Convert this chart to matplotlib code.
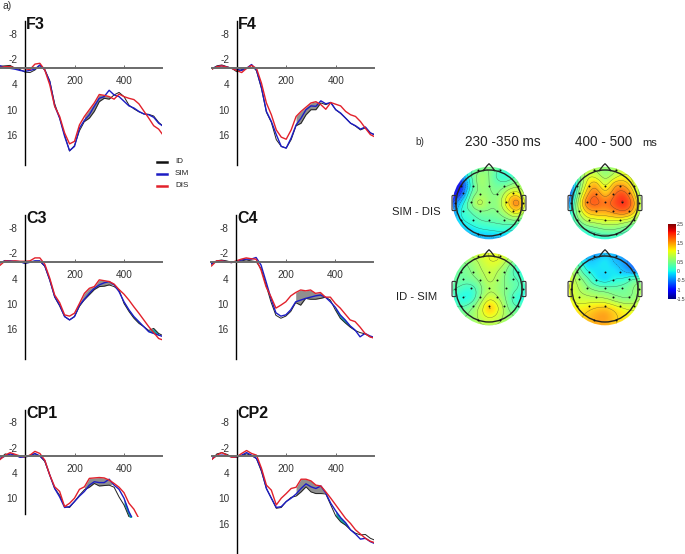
import numpy as np
import matplotlib
matplotlib.use('Agg')
import matplotlib.pyplot as plt
from matplotlib.lines import Line2D
from matplotlib.patches import Circle, FancyBboxPatch

plt.rcParams['font.family'] = ['Liberation Sans', 'DejaVu Sans']
plt.rcParams['axes.unicode_minus'] = False

W, H = 685, 554

# ERP curves, microvolts every 20 ms
times = np.arange(-100, 561, 20)

f3_id = [-.3,-.4,-.5,.2,.5,1.1,1.2,.6,-.5,.5,3.2,8.6,12,16,19.8,18.5,15,12.8,12,10.4,8.1,7.3,7.5,6.5,5.9,6.9,8.9,9.8,10.5,11,11.1,11.5,13,14]
f3_sim = [-.4,0,.2,.4,.7,.9,.7,.4,-.6,.6,3.3,9.1,12,16.3,19.7,18.7,14.4,12.5,11.2,9.2,7.3,6.9,5.4,6.5,6.9,8,9.1,9.6,10.4,11,11.2,11.8,13.2,14]
f3_dis = [0,-.2,-.2,.1,.1,.3,.5,-.8,-1,.6,4.1,9.2,11.6,15.5,18.1,17.5,13.6,11.6,10,8.4,6.4,6.6,6.9,7.5,6.3,6.9,7.3,7.6,8.6,10.3,12,13.8,14.6,16.2]

f4_id = [.4,-.4,-.6,-.2,.2,1,.5,.2,-.6,.8,5,10.6,13,17.1,18.7,19.1,17.1,13.8,13.2,11.2,10,10,8.4,8.8,8.3,10,10.9,12,13.2,13.9,14.8,14.3,15.5,16]
f4_sim = [.2,-.2,-.4,-.1,.2,.4,.7,.2,-.7,.6,4.7,10.4,12.8,15.9,18.7,19.1,16.7,13.6,12,10,9.1,9.2,7.9,8.6,8.3,10,10.8,12,13.2,13.8,14.6,14.1,15.5,16]
f4_dis = [.4,-.2,-.4,-.1,.2,.7,1.2,.2,-.5,.2,3.7,8.4,11.2,14.8,16.5,17,14.8,11.6,10.4,9.4,8.4,8.1,8.8,9.9,8.3,8.7,9.1,10.4,11.2,11.6,12.8,14.4,15.9,16.5]

c3_id = [.3,-.3,-.1,0,.1,.3,.2,-.1,-.1,1.1,4.4,8.4,10.5,13,13.8,13,10.6,9,7.8,6.6,5.9,5.8,5.5,5.9,6.7,9.9,11.8,13.4,14.6,15.4,16.3,15.8,17,17.6]
c3_sim = [.2,-.2,-.2,-.1,0,.4,.1,-.2,-.2,1,4.3,8.3,10.3,13,13.8,13,10.3,8.9,7.5,6.3,5.5,5,4.7,5.5,7.1,9.5,11.4,13,14.2,15.4,16.6,17,17.4,17.8]
c3_dis = [.8,-.2,-.1,-.2,-.1,-.1,-.2,-.9,-.9,.6,3.9,7.9,9.7,12.6,12.9,12.2,9.9,7.5,6.3,5.9,4.3,4.5,4.7,5.3,6.6,7.7,9.1,10.7,12.2,13.8,15.4,16.8,18.2,18.6]

c4_id = [.6,-.2,-.4,-.2,.1,.2,-.2,-.4,-.2,0,1.6,5.5,9.5,12.7,13.4,12.9,11.8,9.7,10.3,8.7,8.9,8.9,8.7,8.4,9.1,11.4,13.4,14.5,15.5,16.3,16.8,17.1,17.8,18]
c4_sim = [.4,0,-.2,0,.2,0,-.4,-.6,-.6,-1,.8,4.7,8.7,12.1,12.9,12.6,11.4,9.5,9.1,8.7,8.4,8.1,7.9,8.4,9.5,10.8,12.6,13.8,15.2,16.2,17.8,17,17.6,18]
c4_dis = [1,-.2,-.2,0,.2,-.2,-.6,-.9,-.7,-.6,2,5.9,8.3,11,10.3,9.5,8.1,7.3,6.7,6.9,6.7,7.5,7.3,8.4,8.4,9.9,11,12.4,13.8,14.2,15.5,17,17.8,18.2]

cp1_id = [.6,-.5,-.2,-.1,.2,.2,-.2,-.5,0,1.3,4.5,7.7,9.3,12,12.2,10.8,9.3,8,7.4,6.5,7.1,7,6.9,7.4,9.7,11.6,14.4,17,19,21,23,25,27,29]
cp1_sim = [.6,0,-.5,-.2,.3,.2,0,-.6,0,1.1,4.5,7.7,9.7,12.2,12,10.8,9.5,8.4,6.9,6.1,6.3,6.3,5.5,6.9,7.9,10,13.2,15.5,18,20,22,24,26,28]
cp1_dis = [.8,-.2,-.8,-.4,0,.2,-.2,-1.1,-.6,1,4.5,7.3,8.4,12,11.2,10,7.9,7.3,5.3,5.2,5.1,5.2,5.7,6.5,7.4,8.7,11.2,12.6,14.8,17,19,21,23,25]

cp2_id = [.8,-.5,-.8,-.4,.2,.3,-.1,-.5,-.1,.6,3.7,7.7,10,12.4,12.2,10.8,9.8,9.5,8.5,7.3,8.5,8.9,8.9,9,11.6,14.2,15.6,16.4,17.5,18.3,18.7,18.6,19.5,20]
cp2_sim = [.6,-.1,-.2,-.1,.2,.2,-.2,-.8,-.2,.6,3.3,7.7,10,12.2,12,10.8,10,9,7.7,6.6,7.3,7.7,7.1,8.8,11.2,13,14.6,15.8,17.5,18.5,19.7,19.5,20.3,20.8]
cp2_dis = [.8,-.2,-.8,-.2,.3,.2,-.6,-1.3,-.6,-.2,2.9,6.9,8.1,11.6,10,8.9,7.7,7.4,5.5,5.5,5.9,6.9,7.1,8.5,10,11.6,13.2,14.8,16,17.5,18.5,19.5,20.2,20.6]

xticks = [200, 400]
yticks_full = [-8, -2, 4, 10, 16]
yticks_cp1 = [-8, -2, 4, 10]

# topographies, 9x9 values over the scalp, top row first
sim_dis_early = [
    [0, 0, .1, .3, .5, .4, .3, .3, .3],
    [-.6, -.4, .2, .6, .5, .15, .05, .25, .35],
    [-1.2, -1, 0, .6, .5, .35, .4, .6, .5],
    [-1.2, -.8, .2, .55, .55, .5, .95, 1.1, .5],
    [-.8, -.2, .4, .85, .55, .6, 1.2, 1.65, .8],
    [-.6, 0, .2, .4, .45, .5, .8, 1.1, .5],
    [-.4, -.1, .05, .2, .25, .3, .35, .35, .1],
    [-.4, -.3, -.2, -.1, -.05, 0, 0, -.1, -.2],
    [-.5, -.5, -.4, -.4, -.4, -.4, -.4, -.4, -.4]]
sim_dis_late = [
    [.3, .5, .7, .7, .6, .7, .9, .9, .8],
    [-.3, .2, .85, .85, .6, .8, 1, .9, .7],
    [-.9, .1, 1, 1.4, .9, 1.4, 1.4, 1, .5],
    [-1, .3, 1.3, 1.7, 1.3, 1.7, 1.85, 1.3, .4],
    [-.7, .6, 1.6, 1.8, 1.7, 1.85, 2, 1.6, .6],
    [-.3, .5, 1.2, 1.4, 1.4, 1.55, 1.65, 1.3, .5],
    [0, .3, .7, .8, .9, .9, .8, .6, .3],
    [-.1, 0, .15, .3, .4, .4, .3, .1, -.1],
    [-.2, -.2, -.1, 0, 0, 0, 0, -.1, -.2]]
id_sim_early = [
    [.7, .8, .9, 1, 1, 1, 1, .9, .7],
    [.5, .5, .6, .8, 1, 1, .7, .35, .25],
    [.35, .4, .5, .7, .85, .75, .45, .1, .05],
    [.35, .35, .4, .55, .8, .65, .4, .25, .15],
    [.3, .2, .1, .4, .7, .6, .45, .25, .1],
    [.2, 0, .05, .5, .95, .75, .4, .05, .05],
    [.3, .3, .45, .8, 1.3, 1, .5, .3, .25],
    [.5, .5, .55, .8, 1, .85, .6, .5, .5],
    [.6, .6, .6, .7, .7, .7, .6, .6, .6]]
id_sim_late = [
    [.2, 0, -.4, -.5, -.3, -.3, -.4, -.3, .1],
    [.5, .2, -.2, -.2, -.1, -.3, -.4, -.6, -.5],
    [.9, .5, 0, -.1, -.1, -.1, -.3, -.5, -.6],
    [1, .7, .4, 0, -.15, 0, .05, .3, .4],
    [1.1, .8, .6, .45, .4, .35, .4, .5, .7],
    [1.1, .9, .85, .8, .75, .6, .5, .55, .8],
    [1.2, 1.1, 1.15, 1.25, 1.3, 1.15, 1, .95, 1],
    [1.2, 1.2, 1.3, 1.45, 1.5, 1.3, 1.15, 1.05, 1],
    [1.2, 1.2, 1.3, 1.4, 1.4, 1.25, 1.1, 1, .9]]

elec_x = [-.48, 0, .45, -.78, -.26, .24, .74, -.55, 0, .52, -.78, -.26, .24, .74, -.48, 0, .45,
          -.33, .32, -.86, .87, -1.03, 1.02, -.86, .87, -.33, .32]
elec_y = [.53, .52, .53, .3, .28, .28, .3, .02, .02, .02, -.25, -.25, -.25, -.25, -.5, -.5, -.5,
          1.0, 1.0, .53, .53, 0, 0, -.5, -.5, -.95, -.95]

cbar_ticks = [2.5, 2, 1.5, 1, .5, 0, -.5, -1, -1.5]

fig = plt.figure(figsize=(W / 100, H / 100), dpi=100)


def px_axes(left, top, right, bottom):
    return fig.add_axes([left / W, 1 - bottom / H, (right - left) / W, (bottom - top) / H])


def erp_panel(name, x0, y0, id_v, sim_v, dis_v, yticks, ax_bottom, clip_bottom, teal=None):
    pu = 4.22    # px per microvolt
    pm = 0.2475  # px per ms
    ax = px_axes(x0 - 25, y0 - 52, x0 + 137, y0 + clip_bottom)
    ax.set_xlim(-25 / pm, 137 / pm)
    ax.set_ylim(clip_bottom / pu, -52 / pu)
    ax.patch.set_alpha(0)
    id_v, sim_v, dis_v = np.array(id_v), np.array(sim_v), np.array(dis_v)

    # gray window: DIS against ID, teal window: ID against SIM
    m = (times >= 230) & (times <= 350) & (dis_v < id_v)
    ax.fill_between(times, dis_v, id_v, where=m, color='#8f8f8f', lw=0, interpolate=True)
    if teal:
        m = (times >= teal[0]) & (times <= teal[1])
        ax.fill_between(times, id_v, sim_v, where=m, color='#1aa5a5', lw=0)

    ax.plot(times, id_v, color='#222222', lw=0.7)
    ax.plot(times, sim_v, color='#1c1cc4', lw=1.0)
    ax.plot(times, dis_v, color='#e2212b', lw=1.0)

    for s in ['top', 'right']:
        ax.spines[s].set_visible(False)
    ax.spines['left'].set_position(('data', 0))
    ax.spines['bottom'].set_position(('data', 0))
    ax.spines['left'].set_bounds(ax_bottom, -11)
    ax.spines['left'].set_linewidth(1)
    ax.spines['bottom'].set_linewidth(1.4)
    ax.spines['bottom'].set_color('#6a6a6a')
    ax.set_xticks(xticks)
    ax.set_yticks(yticks)
    ax.tick_params(axis='x', direction='in', length=2, width=.6, color='#555555',
                   labelsize=7.2, labelcolor='#333333', pad=6)
    ax.tick_params(axis='y', length=0, labelsize=7.2, labelcolor='#333333', pad=5.5)
    fig.text((x0 + 1) / W, 1 - (y0 - 43) / H, name, fontsize=11.5, fontweight='bold',
             ha='left', va='center', color='#111111')


erp_panel('F3', 25, 67.5, f3_id, f3_sim, f3_dis, yticks_full, 23, 100)
erp_panel('F4', 236.7, 67.5, f4_id, f4_sim, f4_dis, yticks_full, 23, 100)
erp_panel('C3', 25, 261.7, c3_id, c3_sim, c3_dis, yticks_full, 23, 100, teal=(400, 540))
erp_panel('C4', 236.3, 261.7, c4_id, c4_sim, c4_dis, yticks_full, 23, 100, teal=(400, 480))
erp_panel('CP1', 25, 456, cp1_id, cp1_sim, cp1_dis, yticks_cp1, 13.7, 61, teal=(400, 480))
erp_panel('CP2', 236.7, 456, cp2_id, cp2_sim, cp2_dis, yticks_full, 23, 97.5, teal=(400, 480))


def spline_surface(vals, n=170):
    vals = np.array(vals, dtype=float)[::-1]
    g = np.linspace(-1.15, 1.15, vals.shape[0])
    px, py = np.meshgrid(g, g)
    pts = np.column_stack([px.ravel(), py.ravel()])

    def kernel(a, b):
        r2 = ((a[:, None, :] - b[None, :, :]) ** 2).sum(axis=2)
        return r2 * np.log(r2 + 1e-12) / 2

    P = np.column_stack([np.ones(len(pts)), pts])
    A = np.block([[kernel(pts, pts) + .02 * np.eye(len(pts)), P], [P.T, np.zeros((3, 3))]])
    coef = np.linalg.solve(A, np.r_[vals.ravel(), np.zeros(3)])
    fine = np.linspace(-1.15, 1.15, n)
    fx, fy = np.meshgrid(fine, fine)
    q = np.column_stack([fx.ravel(), fy.ravel()])
    Q = np.column_stack([np.ones(len(q)), q])
    z = kernel(q, pts) @ coef[:len(pts)] + Q @ coef[len(pts):]
    return fx, fy, z.reshape(fx.shape)


def topo(cx, cy, vals):
    r = 33
    ax = px_axes(cx - 1.3 * r, cy - 1.3 * r, cx + 1.3 * r, cy + 1.3 * r)
    ax.set_xlim(-1.3, 1.3)
    ax.set_ylim(-1.3, 1.3)
    ax.axis('off')
    fx, fy, z = spline_surface(vals)
    im = ax.imshow(z, extent=[-1.15, 1.15, -1.15, 1.15], origin='lower', cmap='jet',
                   vmin=-1.5, vmax=2.5, interpolation='bilinear', alpha=.9)
    im.set_clip_path(Circle((0, 0), 1.1, transform=ax.transData))
    cs = ax.contour(fx, fy, z, levels=np.arange(-1.5, 2.75, .25), colors='#2a2a2a', linewidths=.3, alpha=.6)
    cs.set_clip_path(Circle((0, 0), 1.1, transform=ax.transData))
    ax.add_patch(Circle((0, 0), 1, fc='none', ec='#222222', lw=1))
    ax.plot([-.17, -.06, 0, .06, .17], [.985, 1.13, 1.19, 1.13, .985], color='#222222', lw=.9)
    for side in (-1, 1):
        ax.add_patch(FancyBboxPatch((side * 1.06 - .03, -.2), .06, .4, boxstyle='round,pad=0.03',
                                    fc='none', ec='#333333', lw=.8))
    ax.scatter(elec_x, elec_y, s=2, color='#111111', lw=0, zorder=5)
    ax.set_xlim(-1.3, 1.3)
    ax.set_ylim(-1.3, 1.3)


topo(489, 203, sim_dis_early)
topo(605, 203, sim_dis_late)
topo(489, 289, id_sim_early)
topo(605, 289, id_sim_late)

cax = px_axes(668, 224, 676, 299)
cax.imshow(np.linspace(2.5, -1.5, 256)[:, None], extent=[0, 1, -1.5, 2.5], aspect='auto',
           cmap='jet', vmin=-1.5, vmax=2.5)
cax.set_xticks([])
cax.yaxis.tick_right()
cax.set_yticks(cbar_ticks)
cax.set_yticklabels(['2.5', '2', '1.5', '1', '0.5', '0', '-0.5', '-1', '-1.5'])
cax.tick_params(axis='y', length=0, labelsize=3.6, pad=.8, labelcolor='#333333')
for s in cax.spines.values():
    s.set_visible(False)

# overlay in pixel units for the loose labels and the legend
over = fig.add_axes([0, 0, 1, 1])
over.set_xlim(0, W)
over.set_ylim(H, 0)
over.axis('off')
over.patch.set_alpha(0)

over.text(3, 6, 'a)', fontsize=7.5, color='#333333', va='center')
over.text(415, 142, 'b)', fontsize=7.2, color='#333333', va='center')
over.text(502.5, 141.5, '230 -350 ms', fontsize=9.8, color='#222222', ha='center', va='center')
over.text(575, 141.5, '400 - 500', fontsize=9.8, color='#222222', ha='left', va='center')
over.text(642, 142.5, 'ms', fontsize=8, color='#222222', ha='left', va='center')
over.text(441, 212, 'SIM - DIS', fontsize=8.1, color='#222222', ha='right', va='center')
over.text(437, 297, 'ID - SIM', fontsize=8.1, color='#222222', ha='right', va='center')

legend_names = ['ID', 'SIM', 'DIS']
legend_colors = ['#111111', '#1c1cc4', '#e2212b']
for i, (nm, c) in enumerate(zip(legend_names, legend_colors)):
    yy = 162 + i * 12
    over.add_line(Line2D([157, 167], [yy, yy], color=c, lw=1.8))
    over.text(175, yy - .5, nm, fontsize=5.8, color='#222222', va='center')

fig.savefig('out.png', dpi=100)
